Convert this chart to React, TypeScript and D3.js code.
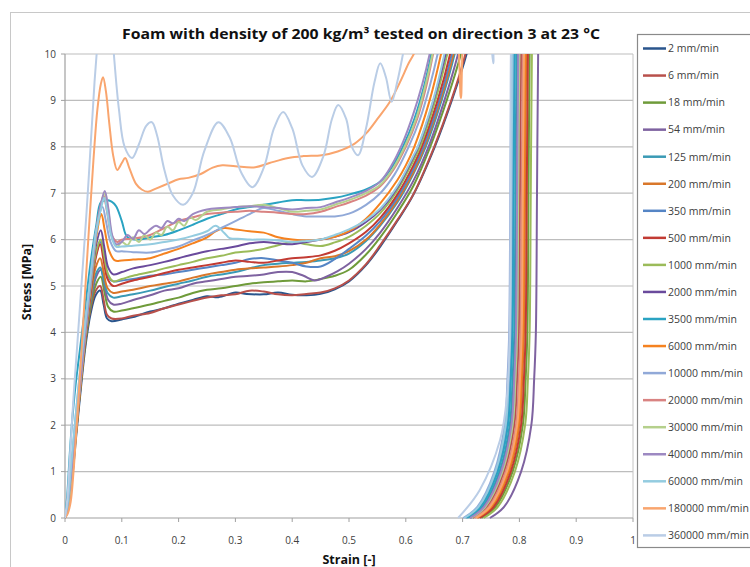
import React from "react";
import * as d3 from "d3";

type P = [number, number];

const seriesNames = [
  "2 mm/min", "6 mm/min", "18 mm/min", "54 mm/min", "125 mm/min", "200 mm/min",
  "350 mm/min", "500 mm/min", "1000 mm/min", "2000 mm/min", "3500 mm/min", "6000 mm/min",
  "10000 mm/min", "20000 mm/min", "30000 mm/min", "40000 mm/min", "60000 mm/min",
  "180000 mm/min", "360000 mm/min",
];

const seriesColors = [
  "#2A558C", "#B8504B", "#6F9B3A", "#7E62A0", "#3A9AB5", "#D9772A",
  "#5585C5", "#C23B33", "#9BBB59", "#6A4A9C", "#2AA3C2", "#F58220",
  "#91A9D8", "#D98382", "#B5D08C", "#9D89C2", "#94CCE0", "#F9A56E", "#BACDE6",
];

const xTicks = [0, 0.1, 0.2, 0.3, 0.4, 0.5, 0.6, 0.7, 0.8, 0.9, 1];
const yTicks = [0, 1, 2, 3, 4, 5, 6, 7, 8, 9, 10];

const s2: P[] = [[0,0],[0.006,0.2],[0.013,0.9],[0.02,1.8],[0.028,2.8],[0.036,3.7],[0.045,4.4],[0.054,4.8],[0.062,4.9],[0.068,4.6],[0.074,4.3],[0.082,4.24],[0.1,4.28],[0.12,4.33],[0.15,4.45],[0.175,4.52],[0.2,4.62],[0.225,4.7],[0.25,4.78],[0.27,4.76],[0.3,4.86],[0.32,4.83],[0.35,4.82],[0.375,4.86],[0.4,4.81],[0.425,4.8],[0.45,4.83],[0.475,4.93],[0.5,5.1],[0.53,5.45],[0.555,5.85],[0.585,6.4],[0.613,6.96],[0.651,8.0],[0.681,9.0],[0.707,10],[0.725,11],[0.76,12.5],[0.802,11],[0.8,10],[0.798,7],[0.796,4],[0.793,3],[0.788,2],[0.77,1],[0.74,0.24],[0.715,0]];
const s6: P[] = [[0,0],[0.005,0.2],[0.012,0.9],[0.02,1.9],[0.028,2.9],[0.036,3.8],[0.045,4.5],[0.054,4.9],[0.062,5.0],[0.068,4.7],[0.074,4.38],[0.082,4.3],[0.1,4.3],[0.12,4.36],[0.15,4.42],[0.175,4.52],[0.2,4.6],[0.225,4.68],[0.25,4.75],[0.275,4.8],[0.3,4.82],[0.325,4.9],[0.35,4.88],[0.375,4.82],[0.4,4.8],[0.425,4.83],[0.45,4.86],[0.475,4.95],[0.5,5.12],[0.53,5.47],[0.555,5.88],[0.585,6.42],[0.613,6.97],[0.65,8.0],[0.68,9.0],[0.705,10],[0.723,11],[0.76,12.5],[0.805,11],[0.803,10],[0.801,7],[0.799,4],[0.796,3],[0.791,2],[0.773,1],[0.743,0.24],[0.718,0]];
const s18: P[] = [[0,0],[0.006,0.2],[0.013,0.95],[0.02,1.9],[0.028,2.9],[0.036,3.8],[0.045,4.55],[0.055,5.05],[0.063,5.2],[0.069,4.9],[0.076,4.55],[0.085,4.45],[0.1,4.47],[0.12,4.52],[0.15,4.6],[0.175,4.68],[0.2,4.75],[0.225,4.85],[0.25,4.92],[0.275,4.95],[0.3,5.0],[0.325,5.05],[0.35,5.08],[0.375,5.1],[0.4,5.12],[0.425,5.1],[0.45,5.15],[0.475,5.22],[0.5,5.35],[0.53,5.68],[0.555,6.05],[0.585,6.58],[0.613,7.15],[0.643,8.0],[0.672,9.0],[0.697,10],[0.715,11],[0.76,12.5],[0.82,11],[0.818,10],[0.816,7],[0.814,4],[0.811,3],[0.806,2],[0.788,1],[0.758,0.24],[0.733,0]];
const s54: P[] = [[0,0],[0.006,0.25],[0.013,1.0],[0.02,2.0],[0.028,3.0],[0.036,3.9],[0.045,4.65],[0.055,5.2],[0.063,5.35],[0.069,5.05],[0.076,4.7],[0.085,4.6],[0.1,4.62],[0.12,4.7],[0.15,4.8],[0.175,4.9],[0.2,4.95],[0.225,5.05],[0.25,5.1],[0.275,5.15],[0.3,5.2],[0.325,5.22],[0.35,5.25],[0.375,5.3],[0.4,5.3],[0.42,5.22],[0.44,5.12],[0.46,5.2],[0.48,5.32],[0.5,5.48],[0.53,5.8],[0.555,6.15],[0.585,6.68],[0.613,7.26],[0.64,8.0],[0.668,9.0],[0.692,10],[0.71,11],[0.76,12.5],[0.835,11],[0.833,10],[0.831,7],[0.829,4],[0.826,3],[0.821,2],[0.803,1],[0.773,0.24],[0.748,0]];
const s125: P[] = [[0,0],[0.005,0.25],[0.012,1.0],[0.02,2.0],[0.028,3.0],[0.036,3.95],[0.045,4.7],[0.054,5.25],[0.062,5.4],[0.068,5.15],[0.075,4.85],[0.085,4.75],[0.1,4.78],[0.12,4.82],[0.15,4.9],[0.175,4.98],[0.2,5.05],[0.225,5.12],[0.25,5.2],[0.275,5.25],[0.3,5.3],[0.325,5.38],[0.35,5.45],[0.375,5.48],[0.4,5.5],[0.425,5.52],[0.45,5.55],[0.475,5.6],[0.5,5.7],[0.53,5.97],[0.555,6.3],[0.585,6.8],[0.613,7.41],[0.635,8.0],[0.663,9.0],[0.686,10],[0.703,11],[0.75,12.5],[0.797,11],[0.795,10],[0.793,7],[0.791,4],[0.788,3],[0.783,2],[0.765,1],[0.735,0.24],[0.71,0]];
const s200: P[] = [[0,0],[0.006,0.2],[0.013,0.95],[0.02,1.9],[0.028,2.95],[0.036,3.9],[0.045,4.75],[0.054,5.4],[0.062,5.6],[0.068,5.3],[0.075,4.95],[0.085,4.85],[0.1,4.88],[0.12,4.92],[0.15,5.0],[0.175,5.05],[0.2,5.1],[0.225,5.18],[0.25,5.25],[0.275,5.3],[0.3,5.35],[0.325,5.38],[0.35,5.4],[0.375,5.42],[0.4,5.45],[0.425,5.5],[0.45,5.6],[0.475,5.64],[0.5,5.75],[0.53,6.0],[0.555,6.33],[0.585,6.84],[0.613,7.44],[0.633,8.0],[0.661,9.0],[0.684,10],[0.701,11],[0.75,12.5],[0.814,11],[0.812,10],[0.81,7],[0.808,4],[0.805,3],[0.8,2],[0.782,1],[0.752,0.24],[0.727,0]];
const s350: P[] = [[0,0],[0.005,0.3],[0.012,1.05],[0.02,2.05],[0.028,3.05],[0.036,4.0],[0.045,4.9],[0.055,5.7],[0.063,5.95],[0.069,5.6],[0.076,5.2],[0.085,5.1],[0.1,5.12],[0.12,5.15],[0.15,5.22],[0.175,5.25],[0.2,5.3],[0.225,5.35],[0.25,5.4],[0.275,5.45],[0.3,5.5],[0.325,5.58],[0.35,5.6],[0.375,5.55],[0.4,5.5],[0.425,5.42],[0.45,5.42],[0.475,5.58],[0.5,5.8],[0.53,6.09],[0.555,6.4],[0.585,6.9],[0.613,7.51],[0.631,8.0],[0.659,9.0],[0.681,10],[0.698,11],[0.75,12.5],[0.792,11],[0.79,10],[0.788,7],[0.786,4],[0.783,3],[0.778,2],[0.76,1],[0.73,0.24],[0.705,0]];
const s500: P[] = [[0,0],[0.006,0.25],[0.013,1.0],[0.02,2.0],[0.028,3.0],[0.036,3.95],[0.045,4.85],[0.054,5.6],[0.062,5.9],[0.068,5.55],[0.075,5.15],[0.085,5.0],[0.1,5.05],[0.12,5.12],[0.15,5.2],[0.175,5.28],[0.2,5.35],[0.225,5.4],[0.25,5.45],[0.275,5.5],[0.3,5.55],[0.325,5.52],[0.35,5.5],[0.375,5.55],[0.4,5.6],[0.425,5.62],[0.45,5.66],[0.475,5.76],[0.5,5.92],[0.53,6.17],[0.555,6.47],[0.585,6.97],[0.613,7.59],[0.628,8.0],[0.656,9.0],[0.678,10],[0.694,11],[0.75,12.5],[0.817,11],[0.815,10],[0.813,7],[0.811,4],[0.808,3],[0.803,2],[0.785,1],[0.755,0.24],[0.73,0]];
const s1000: P[] = [[0,0],[0.005,0.25],[0.012,1.0],[0.02,2.0],[0.028,3.0],[0.036,4.0],[0.045,4.95],[0.055,5.75],[0.063,6.0],[0.069,5.65],[0.076,5.25],[0.085,5.1],[0.1,5.15],[0.12,5.22],[0.15,5.3],[0.175,5.38],[0.2,5.45],[0.225,5.52],[0.25,5.6],[0.275,5.65],[0.3,5.72],[0.325,5.75],[0.35,5.8],[0.375,5.88],[0.4,5.95],[0.425,5.9],[0.45,5.86],[0.475,5.94],[0.5,6.06],[0.53,6.3],[0.555,6.57],[0.585,7.06],[0.613,7.69],[0.625,8.0],[0.652,9.0],[0.673,10],[0.689,11],[0.75,12.5],[0.824,11],[0.822,10],[0.82,7],[0.818,4],[0.815,3],[0.81,2],[0.792,1],[0.762,0.24],[0.737,0]];
const s2000: P[] = [[0,0],[0.006,0.3],[0.013,1.05],[0.02,2.05],[0.028,3.05],[0.036,4.05],[0.045,5.0],[0.055,5.9],[0.063,6.2],[0.069,5.85],[0.076,5.4],[0.085,5.25],[0.1,5.3],[0.12,5.38],[0.15,5.45],[0.175,5.52],[0.2,5.6],[0.225,5.68],[0.25,5.75],[0.275,5.8],[0.3,5.85],[0.325,5.92],[0.35,5.95],[0.375,5.92],[0.4,5.9],[0.425,5.95],[0.45,6.0],[0.475,6.06],[0.5,6.16],[0.53,6.38],[0.555,6.64],[0.585,7.12],[0.613,7.77],[0.622,8.0],[0.649,9.0],[0.67,10],[0.686,11],[0.75,12.5],[0.8,11],[0.798,10],[0.796,7],[0.794,4],[0.791,3],[0.786,2],[0.768,1],[0.738,0.24],[0.713,0]];
const s3500: P[] = [[0,0],[0.004,0.5],[0.008,1.3],[0.012,2.0],[0.018,2.8],[0.026,3.6],[0.035,4.5],[0.045,5.5],[0.055,6.3],[0.063,6.8],[0.072,6.85],[0.082,6.82],[0.09,6.72],[0.1,6.4],[0.11,6.05],[0.13,6.0],[0.15,6.05],[0.175,6.1],[0.2,6.2],[0.225,6.32],[0.25,6.45],[0.275,6.55],[0.3,6.65],[0.325,6.7],[0.35,6.75],[0.375,6.8],[0.4,6.85],[0.425,6.85],[0.45,6.86],[0.475,6.9],[0.5,6.97],[0.53,7.08],[0.555,7.25],[0.575,7.55],[0.595,8.0],[0.615,8.6],[0.632,9.3],[0.645,10],[0.66,11],[0.72,12.5],[0.794,11],[0.792,10],[0.79,7],[0.788,4],[0.785,3],[0.78,2],[0.762,1],[0.732,0.24],[0.707,0]];
const s6000: P[] = [[0,0],[0.006,0.25],[0.013,1.0],[0.02,2.0],[0.028,3.0],[0.036,4.0],[0.045,5.0],[0.055,6.05],[0.064,6.55],[0.07,6.2],[0.078,5.75],[0.088,5.55],[0.1,5.55],[0.12,5.57],[0.15,5.6],[0.175,5.7],[0.2,5.8],[0.225,5.92],[0.25,6.05],[0.265,6.18],[0.28,6.25],[0.3,6.22],[0.325,6.18],[0.35,6.15],[0.375,6.05],[0.4,6.0],[0.425,5.98],[0.45,6.0],[0.475,6.06],[0.5,6.18],[0.53,6.45],[0.555,6.78],[0.585,7.28],[0.6,7.6],[0.615,8.0],[0.642,9.0],[0.662,10],[0.678,11],[0.74,12.5],[0.812,11],[0.81,10],[0.808,7],[0.806,4],[0.803,3],[0.798,2],[0.78,1],[0.75,0.24],[0.725,0]];
const s10000: P[] = [[0,0],[0.005,0.3],[0.011,1.1],[0.018,2.1],[0.026,3.1],[0.035,4.1],[0.045,5.2],[0.055,6.2],[0.066,6.7],[0.072,6.4],[0.08,5.95],[0.09,5.75],[0.1,5.75],[0.12,5.73],[0.15,5.72],[0.175,5.78],[0.2,5.85],[0.225,5.98],[0.25,6.1],[0.275,6.25],[0.3,6.4],[0.325,6.55],[0.35,6.68],[0.375,6.62],[0.4,6.55],[0.425,6.5],[0.45,6.5],[0.475,6.5],[0.5,6.56],[0.53,6.75],[0.555,7.0],[0.58,7.4],[0.605,8.0],[0.625,8.6],[0.642,9.3],[0.656,10],[0.672,11],[0.73,12.5],[0.788,11],[0.786,10],[0.784,7],[0.782,4],[0.779,3],[0.774,2],[0.756,1],[0.726,0.24],[0.701,0]];
const s20000: P[] = [[0,0],[0.006,0.3],[0.013,1.05],[0.02,2.05],[0.028,3.05],[0.036,4.05],[0.045,5.1],[0.055,6.2],[0.063,6.75],[0.068,6.95],[0.074,6.6],[0.082,6.1],[0.092,5.95],[0.1,6.0],[0.12,6.02],[0.15,6.1],[0.175,6.25],[0.2,6.4],[0.225,6.48],[0.25,6.55],[0.275,6.58],[0.3,6.6],[0.325,6.62],[0.35,6.6],[0.375,6.58],[0.4,6.55],[0.425,6.55],[0.45,6.6],[0.475,6.7],[0.5,6.8],[0.53,6.95],[0.555,7.15],[0.578,7.5],[0.6,8.0],[0.62,8.6],[0.636,9.3],[0.648,10],[0.663,11],[0.72,12.5],[0.808,11],[0.806,10],[0.804,7],[0.802,4],[0.799,3],[0.794,2],[0.776,1],[0.746,0.24],[0.721,0]];
const s30000: P[] = [[0,0],[0.006,0.3],[0.013,1.05],[0.02,2.05],[0.028,3.05],[0.036,4.0],[0.045,5.0],[0.055,6.1],[0.063,6.7],[0.07,7.0],[0.076,6.65],[0.083,6.05],[0.092,5.85],[0.1,5.95],[0.11,5.88],[0.12,6.05],[0.13,5.95],[0.14,6.1],[0.15,6.0],[0.16,6.15],[0.17,6.1],[0.18,6.28],[0.19,6.2],[0.2,6.38],[0.21,6.3],[0.22,6.48],[0.23,6.42],[0.25,6.6],[0.275,6.65],[0.3,6.7],[0.325,6.72],[0.35,6.75],[0.375,6.68],[0.4,6.6],[0.425,6.62],[0.45,6.65],[0.475,6.75],[0.5,6.85],[0.53,7.0],[0.555,7.18],[0.577,7.52],[0.598,8.0],[0.618,8.6],[0.634,9.3],[0.647,10],[0.662,11],[0.72,12.5],[0.802,11],[0.8,10],[0.798,7],[0.796,4],[0.793,3],[0.788,2],[0.77,1],[0.74,0.24],[0.715,0]];
const s40000: P[] = [[0,0],[0.005,0.3],[0.012,1.05],[0.02,2.05],[0.028,3.05],[0.036,4.0],[0.045,5.05],[0.055,6.15],[0.063,6.75],[0.07,7.05],[0.076,6.7],[0.083,6.1],[0.09,5.9],[0.1,5.95],[0.11,6.1],[0.12,6.02],[0.13,6.2],[0.14,6.12],[0.15,6.22],[0.16,6.3],[0.17,6.25],[0.18,6.4],[0.19,6.35],[0.2,6.45],[0.21,6.4],[0.225,6.55],[0.25,6.65],[0.275,6.68],[0.3,6.7],[0.325,6.72],[0.35,6.7],[0.375,6.68],[0.4,6.65],[0.425,6.68],[0.45,6.7],[0.475,6.8],[0.5,6.9],[0.53,7.05],[0.555,7.25],[0.575,7.6],[0.595,8.1],[0.613,8.7],[0.629,9.35],[0.642,10],[0.657,11],[0.72,12.5],[0.8,11],[0.798,10],[0.796,7],[0.794,4],[0.791,3],[0.786,2],[0.768,1],[0.738,0.24],[0.713,0]];
const s60000: P[] = [[0,0],[0.005,0.35],[0.011,1.15],[0.018,2.1],[0.026,3.1],[0.035,4.1],[0.045,5.2],[0.055,6.2],[0.064,6.7],[0.069,6.9],[0.075,6.55],[0.082,6.05],[0.09,5.85],[0.1,5.85],[0.12,5.87],[0.15,5.9],[0.175,5.95],[0.2,6.0],[0.225,6.08],[0.25,6.18],[0.265,6.3],[0.28,6.15],[0.29,6.03],[0.3,6.02],[0.325,6.0],[0.35,6.0],[0.375,5.98],[0.4,5.95],[0.425,5.97],[0.45,6.0],[0.475,6.1],[0.5,6.22],[0.53,6.42],[0.555,6.67],[0.585,7.15],[0.613,7.8],[0.621,8.0],[0.648,9.0],[0.668,10],[0.684,11],[0.74,12.5],[0.79,11],[0.788,10],[0.786,7],[0.784,4],[0.781,3],[0.776,2],[0.758,1],[0.728,0.24],[0.703,0]];
const s180000: P[] = [[0,0],[0.005,0.1],[0.01,0.35],[0.015,1.0],[0.02,1.9],[0.027,3.2],[0.035,4.8],[0.043,6.4],[0.05,7.7],[0.057,8.8],[0.063,9.35],[0.067,9.5],[0.072,9.2],[0.078,8.5],[0.085,7.8],[0.092,7.5],[0.1,7.65],[0.106,7.76],[0.113,7.55],[0.125,7.2],[0.135,7.08],[0.146,7.03],[0.16,7.1],[0.18,7.2],[0.2,7.3],[0.217,7.33],[0.24,7.42],[0.26,7.55],[0.277,7.6],[0.3,7.58],[0.335,7.56],[0.36,7.65],[0.393,7.76],[0.42,7.8],[0.452,7.82],[0.48,7.9],[0.51,8.07],[0.531,8.3],[0.55,8.6],[0.572,8.97],[0.59,9.4],[0.605,9.8],[0.616,10.05],[0.64,11],[0.665,12],[0.69,10.6],[0.697,9.05],[0.703,10.6],[0.73,12],[0.81,11],[0.808,10],[0.806,7],[0.804,4],[0.801,3],[0.796,2],[0.778,1],[0.748,0.24],[0.723,0]];
const s360000: P[] = [[0,0],[0.004,0.4],[0.009,1.4],[0.015,2.6],[0.022,3.8],[0.03,5.2],[0.038,6.6],[0.046,8.2],[0.052,9.4],[0.056,10.05],[0.062,11.2],[0.07,11.8],[0.079,11.2],[0.086,10.0],[0.095,8.8],[0.105,8.0],[0.118,7.76],[0.13,8.05],[0.143,8.45],[0.153,8.53],[0.162,8.25],[0.175,7.5],[0.19,6.95],[0.208,6.75],[0.225,7.0],[0.245,7.9],[0.27,8.53],[0.29,8.2],[0.31,7.45],[0.33,7.13],[0.35,7.55],[0.368,8.4],[0.384,8.75],[0.4,8.4],[0.418,7.6],[0.435,7.35],[0.455,7.8],[0.47,8.6],[0.481,8.9],[0.495,8.6],[0.505,8.0],[0.516,7.82],[0.53,8.4],[0.545,9.4],[0.555,9.8],[0.565,9.5],[0.575,8.97],[0.585,9.4],[0.595,10.0],[0.61,11],[0.65,12],[0.72,12],[0.745,11],[0.754,9.8],[0.76,11],[0.787,11],[0.785,10],[0.783,4.05],[0.778,2.6],[0.766,1.68],[0.73,0.6],[0.692,0]];

const seriesData: P[][] = [s2, s6, s18, s54, s125, s200, s350, s500, s1000, s2000, s3500, s6000, s10000, s20000, s30000, s40000, s60000, s180000, s360000];

const W = 750;
const H = 567;
const left = 65, right = 633, top = 54, bottom = 518;

export default function App() {
  const x = d3.scaleLinear().domain([0, 1]).range([left, right]);
  const y = d3.scaleLinear().domain([0, 10]).range([bottom, top]);
  const line = d3
    .line<P>()
    .x((d) => x(d[0]))
    .y((d) => y(d[1]))
    .curve(d3.curveCatmullRom.alpha(0.5));

  const font = "'Open Sans', 'Liberation Sans', sans-serif";
  const legendTop = 48.5;
  const legendStep = 27.05;

  return (
    <svg
      width={W}
      height={H}
      style={{ position: "absolute", left: 0, top: 0, background: "#fff" }}
      fontFamily={font}
    >
      <rect x={0} y={0} width={W} height={H} fill="#fff" />
      <rect x={10.5} y={12.5} width={800} height={700} fill="#fff" stroke="#c8c8c8" />
      <defs>
        <clipPath id="plotClip">
          <rect x={left} y={top} width={right - left} height={bottom - top + 1.5} />
        </clipPath>
      </defs>

      {yTicks.filter((t) => t > 0).map((t) => (
        <line key={"g" + t} x1={left} x2={right} y1={y(t)} y2={y(t)} stroke="#bdbdbd" strokeWidth={1.2} />
      ))}
      <line x1={right} x2={right} y1={top} y2={bottom} stroke="#c4c4c4" strokeWidth={1} />

      <line x1={left} x2={left} y1={top} y2={bottom} stroke="#a0a0a0" strokeWidth={1.2} />
      <line x1={left} x2={right} y1={bottom} y2={bottom} stroke="#a0a0a0" strokeWidth={1.2} />
      {yTicks.map((t) => (
        <g key={"yt" + t}>
          <line x1={left - 4} x2={left} y1={y(t)} y2={y(t)} stroke="#a0a0a0" />
          <text x={56} y={y(t) + 3.6} textAnchor="end" fontSize={10} fill="#404040">
            {t}
          </text>
        </g>
      ))}
      {xTicks.map((t) => (
        <g key={"xt" + t}>
          <line x1={x(t)} x2={x(t)} y1={bottom} y2={bottom + 4} stroke="#a0a0a0" />
          <text x={x(t)} y={544} textAnchor="middle" fontSize={10} fill="#404040">
            {t}
          </text>
        </g>
      ))}

      <g clipPath="url(#plotClip)">
        {seriesData.map((d, i) => (
          <path
            key={seriesNames[i]}
            d={line(d) || ""}
            fill="none"
            stroke={seriesColors[i]}
            strokeWidth={2}
            strokeLinejoin="round"
          />
        ))}
      </g>

      <text
        x={361}
        y={39}
        textAnchor="middle"
        fontSize={14.5}
        fontWeight="bold"
        fill="#111"
        textLength={478}
        lengthAdjust="spacingAndGlyphs"
      >
        Foam with density of 200 kg/m³ tested on direction 3 at 23 °C
      </text>

      <text
        transform={`translate(31,282) rotate(-90)`}
        textAnchor="middle"
        fontSize={12.5}
        fontWeight="bold"
        fill="#111"
      >
        Stress [MPa]
      </text>
      <text x={349} y={564} textAnchor="middle" fontSize={12.5} fontWeight="bold" fill="#111">
        Strain [-]
      </text>

      <rect x={637.5} y={34.5} width={200} height={513} fill="#fff" stroke="#8a8a8a" strokeWidth={1.2} />
      {seriesNames.map((n, i) => {
        const ly = legendTop + i * legendStep;
        return (
          <g key={"lg" + n}>
            <line x1={643} x2={666} y1={ly} y2={ly} stroke={seriesColors[i]} strokeWidth={2.5} />
            <text x={668} y={ly + 3.8} fontSize={10.5} fill="#404040">
              {n}
            </text>
          </g>
        );
      })}
    </svg>
  );
}
